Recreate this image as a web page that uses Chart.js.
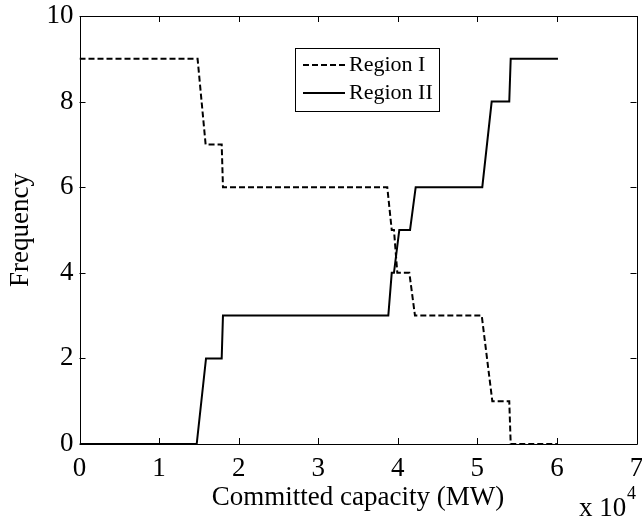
<!DOCTYPE html>
<html>
<head>
<meta charset="utf-8">
<script src="https://cdn.jsdelivr.net/npm/chart.js@4"></script>
<style>
  html, body { margin: 0; padding: 0; background: #ffffff; }
  #wrap { width: 642px; height: 519px; }
</style>
</head>
<body>
<div id="wrap"><canvas id="c" width="642" height="519"></canvas></div>
<script>
// ---- data (x in MW, y = frequency) ----
const region1X = [0, 14840, 15850, 17870, 18030, 38680, 39240, 39520, 39940, 41450, 42160, 50550, 51880, 54010, 54190, 60000];
const region1Y = [9, 9, 7, 7, 6, 6, 5, 5, 4, 4, 3, 3, 1, 1, 0, 0];
const region2X = [0, 14730, 15900, 17870, 18030, 38810, 39240, 39520, 40190, 41540, 42250, 50620, 51800, 54010, 54190, 60130];
const region2Y = [0, 0, 2, 2, 3, 3, 4, 4, 5, 5, 6, 6, 8, 8, 9, 9];
const seriesNames = ['Region I', 'Region II'];
const xTickValues = [0, 10000, 20000, 30000, 40000, 50000, 60000, 70000];
const yTickValues = [0, 2, 4, 6, 8, 10];
const xTitle = 'Committed capacity (MW)';
const yTitle = 'Frequency';

const FONT = "'Liberation Serif', 'Times New Roman', serif";

function toPoints(xs, ys) { return xs.map((x, i) => ({ x: x, y: ys[i] })); }

const boxPlugin = {
  id: 'boxTicks',
  afterDraw(chart) {
    const ctx = chart.ctx;
    const a = chart.chartArea;
    const xs = chart.scales.x, ys = chart.scales.y;
    ctx.save();
    ctx.strokeStyle = '#000';
    ctx.lineWidth = 1;
    ctx.beginPath();
    ctx.rect(Math.round(a.left) + 0.5, Math.round(a.top) + 0.5, Math.round(a.right - a.left), Math.round(a.bottom - a.top));
    ctx.stroke();
    const L = 6;
    ctx.beginPath();
    xTickValues.forEach(v => {
      const px = Math.round(xs.getPixelForValue(v)) + 0.5;
      ctx.moveTo(px, a.bottom); ctx.lineTo(px, a.bottom - L);
      ctx.moveTo(px, a.top); ctx.lineTo(px, a.top + L);
    });
    yTickValues.forEach(v => {
      const py = Math.round(ys.getPixelForValue(v)) + 0.5;
      ctx.moveTo(a.left, py); ctx.lineTo(a.left + L, py);
      ctx.moveTo(a.right, py); ctx.lineTo(a.right - L, py);
    });
    ctx.stroke();

    // legend
    const lx = 295.5, ly = 48.5, lw = 144, lh = 63;
    ctx.fillStyle = '#fff';
    ctx.fillRect(lx, ly, lw, lh);
    ctx.strokeRect(lx, ly, lw, lh);
    ctx.lineWidth = 2;
    ctx.setLineDash([6, 3]);
    ctx.beginPath(); ctx.moveTo(303, 65); ctx.lineTo(345, 65); ctx.stroke();
    ctx.setLineDash([]);
    ctx.beginPath(); ctx.moveTo(303, 93); ctx.lineTo(345, 93); ctx.stroke();
    ctx.fillStyle = '#000';
    ctx.font = '22px ' + FONT;
    ctx.textBaseline = 'middle';
    ctx.textAlign = 'left';
    ctx.fillText(seriesNames[0], 349, 65);
    ctx.fillText(seriesNames[1], 349, 93);

    // exponent annotation
    ctx.textBaseline = 'alphabetic';
    ctx.font = '27px ' + FONT;
    ctx.fillText('x 10', 579, 516);
    ctx.font = '18px ' + FONT;
    ctx.fillText('4', 627, 499);
    ctx.restore();
  }
};

new Chart(document.getElementById('c'), {
  type: 'scatter',
  data: {
    datasets: [
      {
        label: seriesNames[0],
        data: toPoints(region1X, region1Y),
        showLine: true,
        borderColor: '#000',
        borderWidth: 2,
        borderDash: [6, 3],
        pointRadius: 0,
        tension: 0,
        fill: false
      },
      {
        label: seriesNames[1],
        data: toPoints(region2X, region2Y),
        showLine: true,
        borderColor: '#000',
        borderWidth: 2,
        pointRadius: 0,
        tension: 0,
        fill: false
      }
    ]
  },
  options: {
    responsive: false,
    animation: false,
    devicePixelRatio: 1,
    layout: { padding: { left: 0, top: 16, right: 5.5, bottom: 0 } },
    plugins: { legend: { display: false }, tooltip: { enabled: false } },
    scales: {
      x: {
        type: 'linear',
        min: 0, max: 70000,
        afterFit(s) { s.height = 75; s.paddingLeft = 0; s.paddingRight = 0; },
        afterBuildTicks(s) { s.ticks = xTickValues.map(v => ({ value: v })); },
        grid: { display: false, drawTicks: false },
        border: { display: false },
        ticks: {
          color: '#000', padding: 9,
          font: { family: FONT, size: 27 },
          callback: v => String(v / 10000)
        },
        title: {
          display: true, text: xTitle, color: '#000',
          font: { family: FONT, size: 27 },
          padding: { top: 0, bottom: 5 }
        }
      },
      y: {
        min: 0, max: 10,
        afterFit(s) { s.width = 79.5; s.paddingTop = 0; s.paddingBottom = 0; },
        afterBuildTicks(s) { s.ticks = yTickValues.map(v => ({ value: v })); },
        grid: { display: false, drawTicks: false },
        border: { display: false },
        ticks: {
          color: '#000', padding: 6,
          font: { family: FONT, size: 27 }
        },
        title: {
          display: true, text: yTitle, color: '#000',
          font: { family: FONT, size: 27 },
          padding: { top: 5, bottom: 0 }
        }
      }
    }
  },
  plugins: [boxPlugin]
});
</script>
</body>
</html>
